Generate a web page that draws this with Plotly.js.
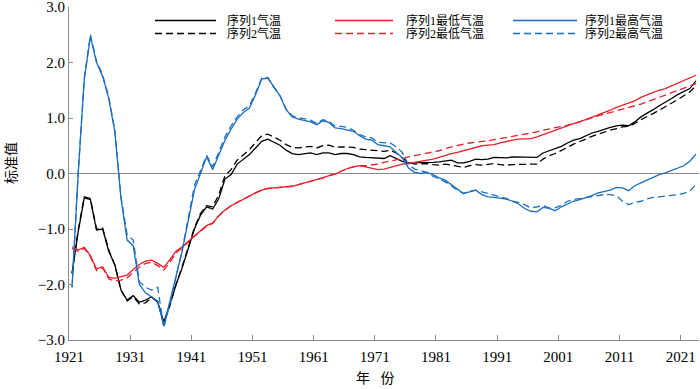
<!DOCTYPE html>
<html>
<head>
<meta charset="utf-8">
<script src="https://cdn.plot.ly/plotly-3.0.1.min.js"></script>
<style>
  html, body { margin: 0; padding: 0; background: #fff; }
  #chart { width: 700px; height: 389px; }
</style>
</head>
<body>
<div id="chart"></div>
<script>
// ---- data (annual values, 1921-2023, plotted at mid-year) ----
const firstYear = 1921;
const lastYear = 2023;
const years = Array.from({length: lastYear - firstYear + 1}, (_, i) => firstYear + i);

const names = ['序列1气温', '序列2气温', '序列1最低气温', '序列2最低气温', '序列1最高气温', '序列2最高气温'];

// 气温 (mean temperature)
const temp1 = [
  -1.8, -1.05, -0.44, -0.47, -1.02, -1.0, -1.4, -1.65, -2.1, -2.28,
  -2.2, -2.32, -2.28, -2.22, -2.32, -2.68, -2.35, -2.0, -1.7, -1.35,
  -1.0, -0.75, -0.6, -0.64, -0.45, -0.1, -0.02, 0.17, 0.26, 0.34,
  0.46, 0.58, 0.62, 0.57, 0.51, 0.42, 0.36, 0.34, 0.35, 0.37,
  0.34, 0.37, 0.37, 0.34, 0.36, 0.36, 0.34, 0.3, 0.29, 0.28,
  0.27, 0.27, 0.32, 0.27, 0.22, 0.19, 0.19, 0.19, 0.2, 0.2,
  0.21, 0.23, 0.24, 0.19, 0.19, 0.22, 0.26, 0.25, 0.26, 0.29,
  0.28, 0.28, 0.3, 0.3, 0.29, 0.29, 0.29, 0.37, 0.41, 0.44,
  0.49, 0.55, 0.6, 0.63, 0.68, 0.73, 0.76, 0.8, 0.83, 0.86,
  0.87, 0.86, 0.93, 1.02, 1.08, 1.15, 1.22, 1.28, 1.35, 1.42,
  1.47, 1.53, 1.67
];
const temp2 = [
  -1.8, -1.02, -0.42, -0.45, -1.0, -0.98, -1.38, -1.65, -2.1, -2.3,
  -2.22, -2.35, -2.33, -2.24, -2.3, -2.7, -2.38, -2.0, -1.68, -1.33,
  -0.98, -0.72, -0.58, -0.6, -0.38, -0.04, 0.07, 0.24, 0.33, 0.43,
  0.56, 0.68, 0.71, 0.66, 0.6, 0.52, 0.47, 0.46, 0.47, 0.49,
  0.46, 0.5, 0.51, 0.47, 0.48, 0.47, 0.47, 0.44, 0.43, 0.41,
  0.4, 0.4, 0.42, 0.37, 0.28, 0.2, 0.17, 0.18, 0.18, 0.16,
  0.15, 0.17, 0.15, 0.12, 0.11, 0.14, 0.16, 0.15, 0.16, 0.18,
  0.16, 0.15, 0.16, 0.16, 0.16, 0.16, 0.17, 0.26, 0.32, 0.36,
  0.41, 0.47, 0.53, 0.57, 0.62, 0.67, 0.71, 0.75, 0.78, 0.81,
  0.84, 0.85, 0.9, 0.97, 1.02, 1.08, 1.14, 1.2, 1.27, 1.33,
  1.4, 1.47, 1.58
];
// 最低气温 (minimum temperature)
const tmin1 = [
  -1.32, -1.38, -1.33, -1.48, -1.72, -1.68, -1.87, -1.89, -1.86, -1.83,
  -1.73, -1.64, -1.58, -1.56, -1.62, -1.69, -1.55, -1.4, -1.32, -1.22,
  -1.12, -1.03, -0.94, -0.89, -0.76, -0.66, -0.58, -0.52, -0.46, -0.4,
  -0.35, -0.3, -0.27, -0.26, -0.25, -0.24, -0.23, -0.2, -0.17, -0.15,
  -0.12, -0.08, -0.04, -0.01, 0.04, 0.09, 0.12, 0.14, 0.12, 0.1,
  0.07, 0.08, 0.11, 0.15, 0.17, 0.18, 0.2, 0.22, 0.23, 0.26,
  0.29, 0.33, 0.36, 0.38, 0.41, 0.44, 0.47, 0.5, 0.51, 0.52,
  0.55, 0.58, 0.6, 0.62, 0.63, 0.63, 0.66, 0.7, 0.74, 0.78,
  0.83, 0.87, 0.9, 0.93, 0.97, 1.01, 1.06, 1.1, 1.14, 1.19,
  1.23, 1.26, 1.31, 1.37, 1.42, 1.46, 1.5, 1.53, 1.58, 1.63,
  1.68, 1.72, 1.77
];
const tmin2 = [
  -1.35, -1.4, -1.35, -1.5, -1.75, -1.7, -1.9, -1.94, -1.92, -1.88,
  -1.78, -1.69, -1.62, -1.6, -1.66, -1.74, -1.6, -1.43, -1.34, -1.23,
  -1.13, -1.04, -0.95, -0.9, -0.76, -0.66, -0.58, -0.52, -0.46, -0.4,
  -0.35, -0.3, -0.27, -0.26, -0.25, -0.24, -0.23, -0.2, -0.17, -0.15,
  -0.12, -0.08, -0.04, -0.01, 0.04, 0.09, 0.12, 0.14, 0.14, 0.15,
  0.17, 0.2, 0.22, 0.25, 0.27, 0.3, 0.32, 0.34, 0.36, 0.39,
  0.41, 0.45, 0.48, 0.5, 0.53, 0.55, 0.56, 0.57, 0.59, 0.61,
  0.63, 0.65, 0.67, 0.69, 0.7, 0.72, 0.75, 0.78, 0.8, 0.82,
  0.85, 0.87, 0.9, 0.93, 0.97, 1.0, 1.04, 1.07, 1.1, 1.13,
  1.15, 1.18, 1.21, 1.25, 1.29, 1.33, 1.37, 1.41, 1.45, 1.5,
  1.54, 1.58, 1.62
];
// 最高气温 (maximum temperature)
const tmax1 = [
  -2.05, 0.0, 1.7, 2.47, 2.0, 1.75, 1.35, 0.75, -0.45, -1.2,
  -1.3, -2.0, -2.15, -2.22, -2.3, -2.75, -2.3, -1.85, -1.4, -0.85,
  -0.3, 0.0, 0.3, 0.07, 0.32, 0.6, 0.8, 0.98, 1.1, 1.18,
  1.42, 1.7, 1.72, 1.55, 1.4, 1.15, 1.02, 0.98, 0.96, 0.93,
  0.88, 0.95, 0.92, 0.82, 0.81, 0.79, 0.76, 0.68, 0.62, 0.6,
  0.52, 0.5, 0.48, 0.38, 0.28, 0.1, 0.02, 0.0, 0.02, -0.02,
  -0.08, -0.12, -0.2, -0.28, -0.36, -0.33, -0.3, -0.38, -0.42, -0.43,
  -0.44, -0.46, -0.5, -0.55, -0.63, -0.68, -0.69, -0.61, -0.63, -0.67,
  -0.6, -0.55, -0.5, -0.47, -0.44, -0.4, -0.35, -0.33, -0.3, -0.25,
  -0.26, -0.31, -0.22, -0.17, -0.12, -0.06, -0.02, 0.01, 0.05, 0.09,
  0.14, 0.22, 0.35
];
const tmax2 = [
  -2.05, 0.0, 1.72, 2.5, 2.02, 1.78, 1.38, 0.78, -0.42, -1.1,
  -1.2, -1.95, -2.05, -2.1, -2.05, -2.78, -2.35, -1.85, -1.38, -0.8,
  -0.22, 0.05, 0.33, 0.12, 0.38, 0.66, 0.86, 1.02, 1.15, 1.22,
  1.45, 1.72, 1.73, 1.55, 1.4, 1.16, 1.04, 1.0, 0.99, 0.96,
  0.9, 0.97, 0.94, 0.85, 0.85, 0.83, 0.78, 0.7, 0.66, 0.64,
  0.56, 0.55, 0.55, 0.48, 0.38, 0.16, 0.08, 0.05, 0.02, -0.05,
  -0.1, -0.15, -0.22, -0.3, -0.36, -0.32, -0.3, -0.33, -0.36, -0.4,
  -0.43, -0.45, -0.5, -0.52, -0.56, -0.62, -0.6, -0.58, -0.62, -0.62,
  -0.57, -0.5, -0.47, -0.45, -0.44, -0.42, -0.4, -0.38, -0.38, -0.4,
  -0.5, -0.56, -0.52, -0.5, -0.46, -0.43, -0.42, -0.41, -0.4, -0.38,
  -0.36, -0.32, -0.19
];

const xTickVals = [1921, 1931, 1941, 1951, 1961, 1971, 1981, 1991, 2001, 2011, 2021];
const yTickVals = [-3, -2, -1, 0, 1, 2, 3];

// ---- styles ----
const BLACK = '#000000', RED = '#e8212b', BLUE = '#1b6ec2';
const DASH = '7px,4px';
const series = [
  {y: temp1, name: names[0], color: BLACK, dash: 'solid'},
  {y: temp2, name: names[1], color: BLACK, dash: DASH},
  {y: tmin1, name: names[2], color: RED,   dash: 'solid'},
  {y: tmin2, name: names[3], color: RED,   dash: DASH},
  {y: tmax1, name: names[4], color: BLUE,  dash: 'solid'},
  {y: tmax2, name: names[5], color: BLUE,  dash: DASH}
];
const xMid = years.map(v => v + 0.5);

const traces = series.map(s => ({
  type: 'scatter', mode: 'lines', x: xMid, y: s.y, name: s.name,
  line: {color: s.color, width: 1.3, dash: s.dash},
  showlegend: false, hoverinfo: 'skip'
}));

// ---- layout ----
const W = 700, H = 389;
const M = {l: 69, r: 1, t: 7, b: 49};
const px2x = p => (p - M.l) / (W - M.l - M.r);
const py2y = p => (H - M.b - p) / (H - M.t - M.b);

const NUMFONT = 'Liberation Serif';
const CJKFONT = 'Liberation Serif, Noto Sans CJK SC';
const shapes = [];
const annotations = [];
// custom legend: 3 columns x 2 rows
const legendCols = [
  {x0: 155, x1: 216, tx: 225},
  {x0: 335, x1: 393, tx: 404},
  {x0: 513, x1: 577, tx: 583}
];
const legendRows = [20.5, 33.5];
series.forEach((s, i) => {
  const col = legendCols[Math.floor(i / 2)];
  const rowY = legendRows[i % 2];
  shapes.push({type: 'line', xref: 'paper', yref: 'paper',
    x0: px2x(col.x0), x1: px2x(col.x1), y0: py2y(rowY), y1: py2y(rowY),
    line: {color: s.color, width: 1.3, dash: s.dash}});
  annotations.push({xref: 'paper', yref: 'paper', x: px2x(col.tx), y: py2y(rowY),
    xanchor: 'left', yanchor: 'middle', showarrow: false, text: s.name,
    font: {family: CJKFONT, size: 12, color: '#000'}});
});
// axis titles
annotations.push({xref: 'paper', yref: 'paper', x: px2x(375), y: py2y(378),
  xanchor: 'center', yanchor: 'middle', showarrow: false, text: '年&nbsp;&nbsp;&nbsp;份',
  font: {family: CJKFONT, size: 14, color: '#000'}});
annotations.push({xref: 'paper', yref: 'paper', x: px2x(11), y: py2y(163),
  xanchor: 'center', yanchor: 'middle', showarrow: false, text: '标准值', textangle: -90,
  font: {family: CJKFONT, size: 14, color: '#000'}});

const layout = {
  width: W, height: H,
  margin: M,
  paper_bgcolor: '#ffffff', plot_bgcolor: '#ffffff',
  font: {family: CJKFONT, size: 14, color: '#000'},
  showlegend: false,
  xaxis: {
    range: [1921, 2024], tickvals: xTickVals, tickformat: 'd',
    ticks: 'inside', ticklen: 5, tickcolor: '#8a8a8a', tickwidth: 1,
    showline: true, linecolor: '#8a8a8a', linewidth: 1,
    showgrid: false, zeroline: false, ticklabelstandoff: 3,
    tickfont: {family: NUMFONT, size: 15, color: '#000'}
  },
  yaxis: {
    range: [-3, 3], tickvals: yTickVals, tickformat: '.1f',
    ticks: 'inside', ticklen: 4, tickcolor: '#8a8a8a', tickwidth: 1,
    showline: true, linecolor: '#8a8a8a', linewidth: 1,
    showgrid: false, zeroline: true, zerolinecolor: '#8c8c8c', zerolinewidth: 1,
    ticklabeloverflow: 'allow',
    tickfont: {family: NUMFONT, size: 15, color: '#000'}
  },
  shapes: shapes,
  annotations: annotations
};

Plotly.newPlot('chart', traces, layout, {staticPlot: true, displayModeBar: false});
</script>
</body>
</html>
